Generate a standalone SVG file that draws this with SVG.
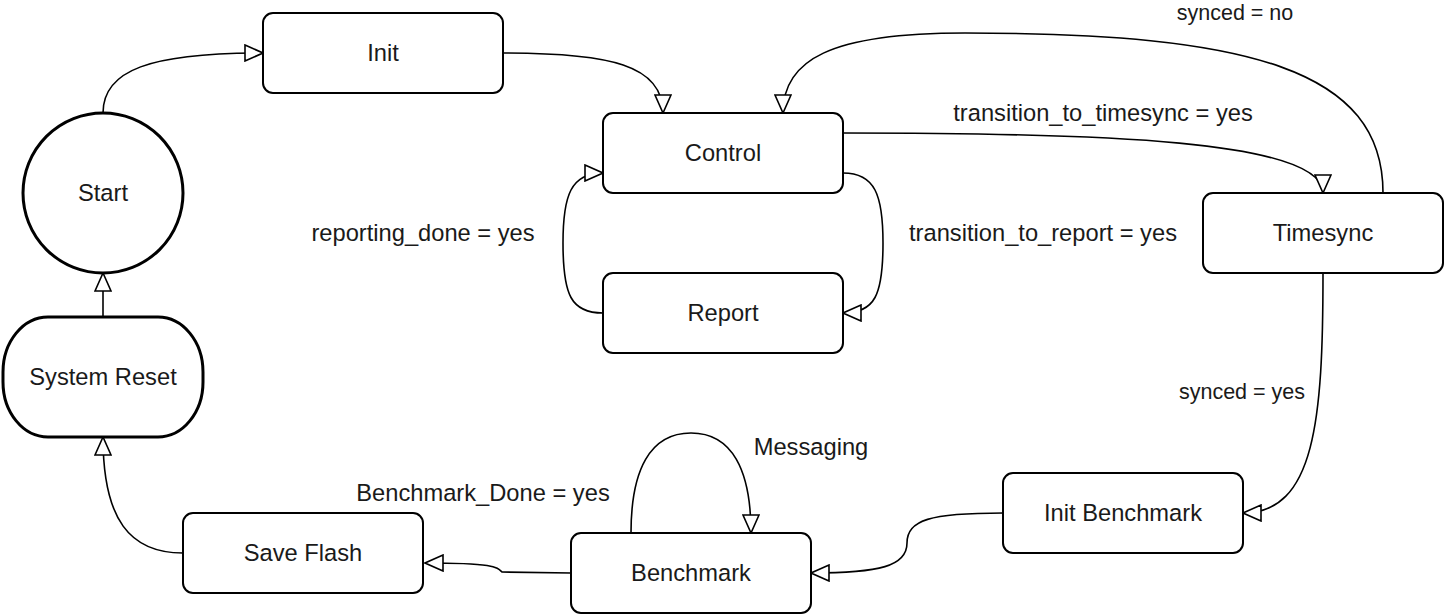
<svg xmlns="http://www.w3.org/2000/svg" width="1444" height="614" viewBox="0 0 1444 614">
<defs>
<style>
.node{fill:#fff;stroke:#000;stroke-width:2}
.thick{fill:#fff;stroke:#000;stroke-width:3}
.t{font-family:"Liberation Sans",Arial,sans-serif;font-size:23.7px;fill:#1a1a1a;text-anchor:middle;dominant-baseline:central}
.s{font-size:21.5px}
.e{fill:none;stroke:#000;stroke-width:1.6;marker-end:url(#arr)}
</style>
<marker id="arr" markerUnits="userSpaceOnUse" markerWidth="20" markerHeight="18" refX="18" refY="8" orient="auto" viewBox="-1 -1 20 18">
<path d="M0,0 L18,8 L0,16 Z" fill="#fff" stroke="#000" stroke-width="1.6"/>
</marker>
</defs>
<rect width="1444" height="614" fill="#fff"/>
<g id="connectors">
<path class="e" d="M103,113 C103,70 150,53 263,53"/>
<path class="e" d="M503,53 C610,53 663,65 663,113"/>
<path class="e" d="M1383,193 C1383,70 1250,33 965,33 C830,33 783,60 783,113"/>
<path class="e" d="M843,133 C1100,133 1323,140 1323,193"/>
<path class="e" d="M843,173 C875,173 883,195 883,243 C883,295 875,313 843,313"/>
<path class="e" d="M603,313 C571,313 563,295 563,243 C563,195 571,173 603,173"/>
<path class="e" d="M1323,273 C1323,420 1315,513 1243,513"/>
<path class="e" d="M1003,513 C930,513 907,520 907,543 C907,566 880,573 811,573"/>
<path class="e" d="M631,533 C631,470 650,433 691,433 C732,433 751,470 751,533"/>
<path class="e" d="M571,573 L502,572 C497,567 495,563 425,563"/>
<path class="e" d="M183,553 C130,553 103,520 103,437"/>
<path class="e" d="M103,317 L103,273"/>
</g>
<g id="start"><circle class="thick" cx="103" cy="193" r="80"/><text class="t" x="103" y="193">Start</text></g>
<g id="system-reset"><rect class="thick" x="3" y="317" width="200" height="120" rx="45" ry="55"/><text class="t" x="103" y="377">System Reset</text></g>
<g id="init"><rect class="node" x="263" y="13" width="240" height="80" rx="10"/><text class="t" x="383" y="53">Init</text></g>
<g id="control"><rect class="node" x="603" y="113" width="240" height="80" rx="10"/><text class="t" x="723" y="153">Control</text></g>
<g id="report"><rect class="node" x="603" y="273" width="240" height="80" rx="10"/><text class="t" x="723" y="313">Report</text></g>
<g id="timesync"><rect class="node" x="1203" y="193" width="240" height="80" rx="10"/><text class="t" x="1323" y="233">Timesync</text></g>
<g id="init-benchmark"><rect class="node" x="1003" y="473" width="240" height="80" rx="10"/><text class="t" x="1123" y="513">Init Benchmark</text></g>
<g id="benchmark"><rect class="node" x="571" y="533" width="240" height="80" rx="10"/><text class="t" x="691" y="573">Benchmark</text></g>
<g id="save-flash"><rect class="node" x="183" y="513" width="240" height="80" rx="10"/><text class="t" x="303" y="553">Save Flash</text></g>
<g id="labels">
<text class="t s" x="1235" y="13">synced = no</text>
<text class="t" x="1103" y="113">transition_to_timesync = yes</text>
<text class="t" x="423" y="233">reporting_done = yes</text>
<text class="t" x="1043" y="233">transition_to_report = yes</text>
<text class="t s" x="1242" y="392">synced = yes</text>
<text class="t" x="811" y="447">Messaging</text>
<text class="t" x="483" y="493">Benchmark_Done = yes</text>
</g>
</svg>
